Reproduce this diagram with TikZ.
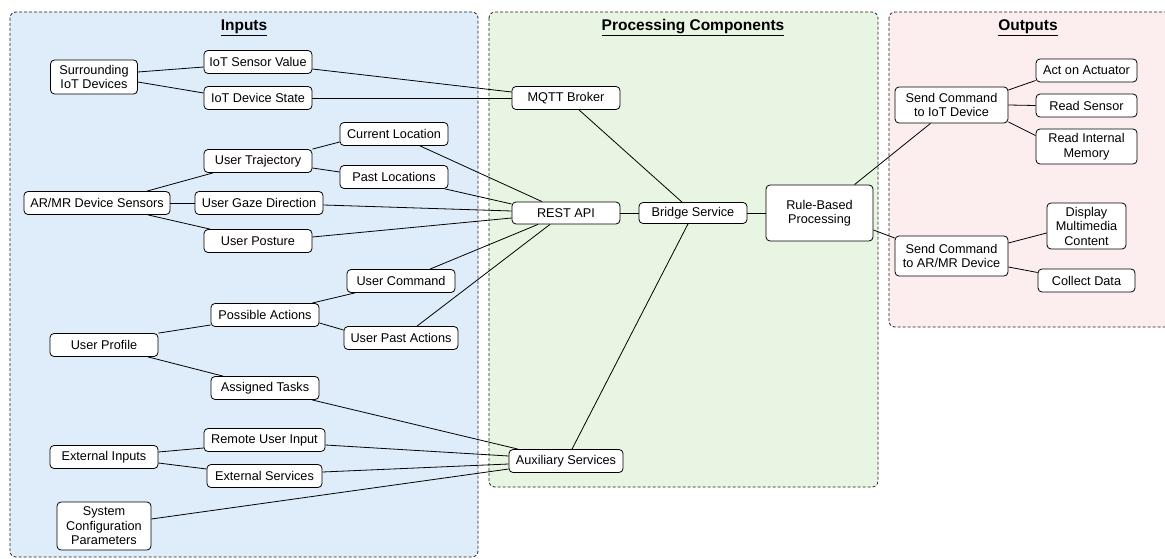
\documentclass[tikz,border=0pt]{standalone}
\usepackage{fontspec}
\setmainfont{Liberation Sans}
\definecolor{inbg}{HTML}{DFECF9}
\definecolor{prbg}{HTML}{E9F5E3}
\definecolor{outbg}{HTML}{FCEEEE}
\definecolor{frame}{HTML}{222222}
\begin{document}
\begin{tikzpicture}[x=1pt,y=-1pt,
  box/.style={draw=black, line width=0.8pt, rounded corners=4pt, fill=white, align=center,
    inner sep=0pt, font=\fontsize{12.7}{14.5}\selectfont},
  group/.style={draw=frame, line width=0.8pt, dash pattern=on 3pt off 2pt, rounded corners=6pt},
  gtitle/.style={font=\fontsize{15.5}{18}\selectfont\bfseries},
  conn/.style={draw=black, line width=0.8pt}]
\useasboundingbox (0,0) rectangle (1165,559);
% containers
\path[group, fill=inbg] (10,12) rectangle (478,557);
\path[group, fill=prbg] (489,12) rectangle (878,487);
\path[group, fill=outbg] (889,12) rectangle (1180,327);
\node[gtitle] (tin) at (244,28) {\underline{Inputs}};
\node[gtitle] (tpr) at (693,28) {\underline{Processing Components}};
\node[gtitle] (tout) at (1028,28) {\underline{Outputs}};
% input nodes
\node[box, minimum width=87pt, minimum height=34pt] (sur) at (94,77) {Surrounding\\IoT Devices};
\node[box, minimum width=108pt, minimum height=23pt] (isv) at (258,62) {IoT Sensor Value};
\node[box, minimum width=108pt, minimum height=23pt] (ids) at (258,98) {IoT Device State};
\node[box, minimum width=108pt, minimum height=23pt] (cur) at (394,134) {Current Location};
\node[box, minimum width=108pt, minimum height=23pt] (traj) at (258,161) {User Trajectory};
\node[box, minimum width=108pt, minimum height=23pt] (past) at (394,177) {Past Locations};
\node[box, minimum width=146pt, minimum height=23pt] (ar) at (97,203) {AR/MR Device Sensors};
\node[box, minimum width=128pt, minimum height=23pt] (gaze) at (259,203) {User Gaze Direction};
\node[box, minimum width=108pt, minimum height=23pt] (post) at (258,241) {User Posture};
\node[box, minimum width=108pt, minimum height=23pt] (ucmd) at (401,281) {User Command};
\node[box, minimum width=108pt, minimum height=23pt] (poss) at (265,315) {Possible Actions};
\node[box, minimum width=114pt, minimum height=23pt] (upa) at (401,338) {User Past Actions};
\node[box, minimum width=108pt, minimum height=23pt] (prof) at (104,345) {User Profile};
\node[box, minimum width=108pt, minimum height=23pt] (task) at (265,388) {Assigned Tasks};
\node[box, minimum width=121pt, minimum height=23pt] (rem) at (264.5,440) {Remote User Input};
\node[box, minimum width=108pt, minimum height=23pt] (ext) at (104,457) {External Inputs};
\node[box, minimum width=115pt, minimum height=23pt] (exs) at (264.5,476) {External Services};
\node[box, minimum width=94pt, minimum height=48pt] (sys) at (104,526) {System\\Configuration\\Parameters};
% processing nodes
\node[box, minimum width=108pt, minimum height=23pt] (mqtt) at (566,98) {MQTT Broker};
\node[box, minimum width=108pt, minimum height=22pt] (rest) at (566,213) {REST API};
\node[box, minimum width=108pt, minimum height=21pt] (bridge) at (693,213) {Bridge Service};
\node[box, minimum width=107pt, minimum height=56pt] (rule) at (819.5,213) {Rule-Based\\Processing};
\node[box, minimum width=114pt, minimum height=23pt] (aux) at (566,461) {Auxiliary Services};
% output nodes
\node[box, minimum width=113pt, minimum height=36pt] (sendiot) at (951.5,105) {Send Command\\to IoT Device};
\node[box, minimum width=101pt, minimum height=23pt] (act) at (1086.5,70.5) {Act on Actuator};
\node[box, minimum width=101pt, minimum height=23pt] (rsen) at (1086.5,105.5) {Read Sensor};
\node[box, minimum width=101pt, minimum height=35pt] (rmem) at (1086.5,146.5) {Read Internal\\Memory};
\node[box, minimum width=79pt, minimum height=46pt] (disp) at (1086.5,226) {Display\\Multimedia\\Content};
\node[box, minimum width=113pt, minimum height=40pt] (sendar) at (951.5,256) {Send Command\\to AR/MR Device};
\node[box, minimum width=97pt, minimum height=23pt] (coll) at (1086.5,280.5) {Collect Data};
% connectors
\draw[conn] ([yshift=5pt]sur.east) -- ([yshift=-5pt]isv.west);
\draw[conn] ([yshift=-5pt]sur.east) -- ([yshift=5pt]ids.west);
\draw[conn] ([yshift=-7pt]isv.east) -- ([yshift=6pt]mqtt.west);
\draw[conn] (ids.east) -- (mqtt.west);
\draw[conn] ([xshift=13pt]mqtt.south) -- ([xshift=-11pt]bridge.north);
\draw[conn] ([xshift=26pt]cur.south) -- ([xshift=-24pt]rest.north);
\draw[conn] (traj.north east) -- ([yshift=-8pt]cur.west);
\draw[conn] ([yshift=-7pt]traj.east) -- ([yshift=5pt]past.west);
\draw[conn] ([xshift=50pt]ar.north) -- ([xshift=-45pt]traj.south);
\draw[conn] (ar.east) -- (gaze.west);
\draw[conn] ([xshift=51pt]ar.south) -- ([xshift=-48pt]post.north);
\draw[conn] ([xshift=51pt]past.south) -- ([yshift=9pt]rest.west);
\draw[conn] ([yshift=-2pt]gaze.east) -- ([yshift=2pt]rest.west);
\draw[conn] ([yshift=4pt]post.east) -- ([yshift=-5pt]rest.west);
\draw[conn] ([xshift=29pt]ucmd.north) -- ([xshift=-28pt]rest.south);
\draw[conn] ([xshift=16pt]upa.north) -- ([xshift=-16pt]rest.south);
\draw[conn] ([xshift=47pt]poss.north) -- ([xshift=-46pt]ucmd.south);
\draw[conn] ([yshift=-8pt]poss.east) -- ([yshift=8pt]upa.west);
\draw[conn] (prof.north east) -- ([yshift=-10pt]poss.west);
\draw[conn] ([xshift=44pt]prof.south) -- ([xshift=-42pt]task.north);
\draw[conn] ([xshift=47pt]task.south) -- ([xshift=-48pt]aux.north);
\draw[conn] ([yshift=-5pt]rem.east) -- ([yshift=5pt]aux.west);
\draw[conn] ([yshift=5pt]ext.east) -- ([yshift=-8pt]rem.west);
\draw[conn] ([yshift=-6pt]ext.east) -- ([yshift=7pt]exs.west);
\draw[conn] ([yshift=4pt]exs.east) -- ([yshift=-3pt]aux.west);
\draw[conn] ([yshift=7pt]sys.east) -- ([yshift=-8pt]aux.west);
\draw[conn] ([xshift=6pt]aux.north) -- ([xshift=-5pt]bridge.south);
\draw[conn] (rest.east) -- (bridge.west);
\draw[conn] (bridge.east) -- (rule.west);
\draw[conn] ([xshift=35pt]rule.north) -- ([xshift=-21pt]sendiot.south);
\draw[conn] ([yshift=-17pt]rule.east) -- ([yshift=18pt]sendar.west);
\draw[conn] ([yshift=15pt]sendiot.east) -- ([yshift=-10pt]act.west);
\draw[conn] (sendiot.east) -- (rsen.west);
\draw[conn] ([yshift=-17pt]sendiot.east) -- ([yshift=11pt]rmem.west);
\draw[conn] ([yshift=13pt]sendar.east) -- ([yshift=-7pt]disp.west);
\draw[conn] ([yshift=-11pt]sendar.east) -- ([yshift=8pt]coll.west);
\end{tikzpicture}
\end{document}
